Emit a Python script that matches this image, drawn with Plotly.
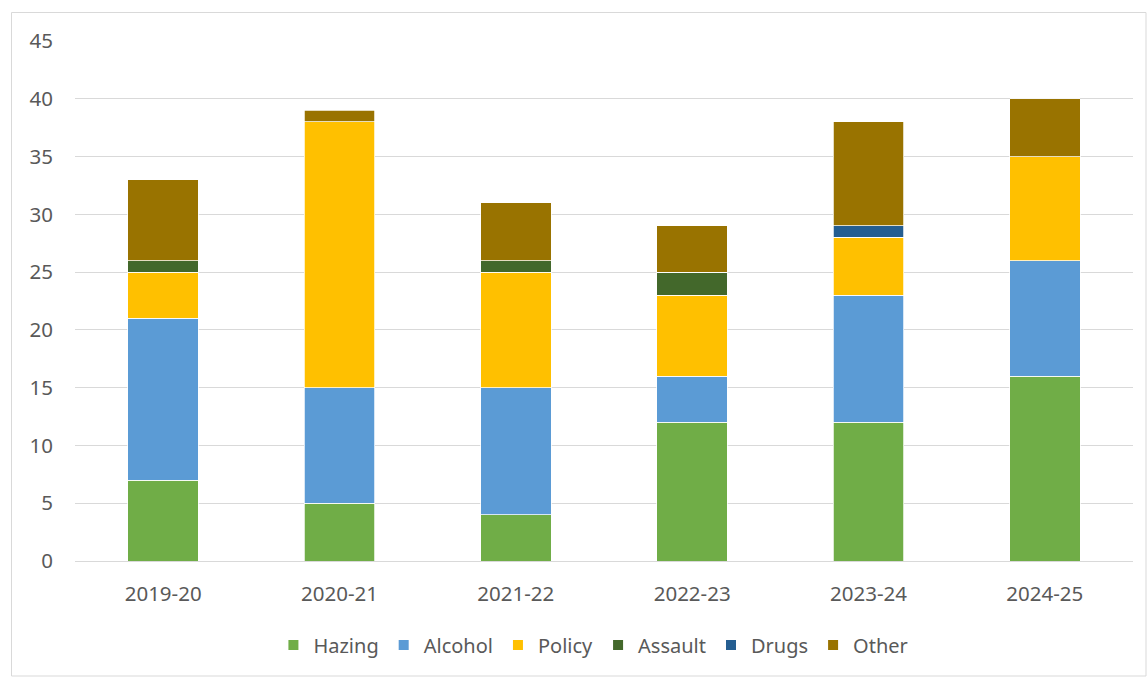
import plotly.graph_objects as go

years = ["2019-20", "2020-21", "2021-22", "2022-23", "2023-24", "2024-25"]
hazing = [7, 5, 4, 12, 12, 16]
alcohol = [14, 10, 11, 4, 11, 10]
policy = [4, 23, 10, 7, 5, 9]
assault = [1, 0, 1, 2, 0, 0]
drugs = [0, 0, 0, 0, 1, 0]
other = [7, 1, 5, 4, 9, 5]

series = [
    ("Hazing", hazing, "#70AD47"),
    ("Alcohol", alcohol, "#5B9BD5"),
    ("Policy", policy, "#FFC000"),
    ("Assault", assault, "#43682B"),
    ("Drugs", drugs, "#255E91"),
    ("Other", other, "#997300"),
]

fig = go.Figure()
for name, vals, col in series:
    fig.add_trace(go.Bar(
        x=years, y=vals, name=name,
        marker=dict(color=col, line=dict(color="white", width=0.75)),
    ))

W, H = 1147, 677
L, R, T, B = 75, 14, 41, 116
pw, ph = W - L - R, H - T - B

def px_x(p):
    return (p - L) / pw

def px_y(p):
    return (H - B - p) / ph

font = "Noto Sans"
fs = 20.5
fig.update_layout(
    width=W, height=H,
    barmode="stack", bargap=0.6,
    margin=dict(l=L, r=R, t=T, b=B),
    plot_bgcolor="white", paper_bgcolor="white",
    font=dict(family=font, size=fs, color="#595959"),
    xaxis=dict(showgrid=False, showline=True, linecolor="#d9d9d9", linewidth=1,
               ticks="", ticklabelstandoff=14, tickfont=dict(size=fs, color="#595959")),
    yaxis=dict(range=[0, 45], dtick=5, showgrid=True, gridcolor="#d9d9d9", gridwidth=1,
               zeroline=False, showline=False, ticks="", ticklabelstandoff=21,
               tickfont=dict(size=fs, color="#595959")),
    legend=dict(orientation="h", x=0.49, xanchor="center", y=px_y(645), yanchor="middle",
                font=dict(size=20, color="#595959"), traceorder="normal",
                itemsizing="constant", itemwidth=30, tracegroupgap=0),
    shapes=[dict(type="rect", xref="paper", yref="paper",
                 x0=px_x(11.5), x1=px_x(1146), y0=px_y(676), y1=px_y(12.5),
                 line=dict(color="#d9d9d9", width=1), layer="below")],
)

fig.write_html("out.html", config={"displayModeBar": False},
               post_script="document.body.style.margin='0';document.body.style.overflow='hidden';")
